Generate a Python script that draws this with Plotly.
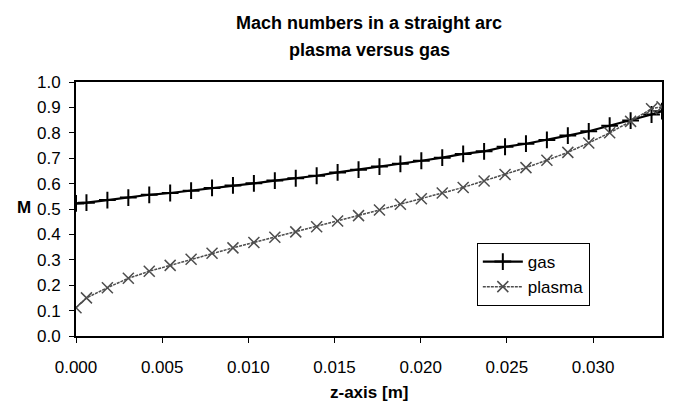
import plotly.graph_objects as go

z_axis = [0.0, 0.000607, 0.001821, 0.003036, 0.004250, 0.005464, 0.006679, 0.007893,
          0.009107, 0.010321, 0.011536, 0.012750, 0.013964, 0.015179, 0.016393,
          0.017607, 0.018821, 0.020036, 0.021250, 0.022464, 0.023679, 0.024893,
          0.026107, 0.027321, 0.028536, 0.029750, 0.030964, 0.032179, 0.033393, 0.034]

gas = [0.522, 0.525, 0.535, 0.545, 0.556, 0.563, 0.572, 0.583, 0.593, 0.601,
       0.612, 0.621, 0.631, 0.644, 0.655, 0.667, 0.678, 0.690, 0.702, 0.717,
       0.727, 0.745, 0.757, 0.772, 0.789, 0.806, 0.828, 0.848, 0.872, 0.885]

plasma = [0.111, 0.150, 0.190, 0.227, 0.255, 0.278, 0.302, 0.326, 0.347, 0.368,
          0.389, 0.410, 0.430, 0.453, 0.474, 0.496, 0.519, 0.540, 0.563, 0.585,
          0.610, 0.636, 0.663, 0.692, 0.723, 0.760, 0.800, 0.845, 0.895, 0.902]

x_ticks = [0.000, 0.005, 0.010, 0.015, 0.020, 0.025, 0.030]
y_ticks = [0.0, 0.1, 0.2, 0.3, 0.4, 0.5, 0.6, 0.7, 0.8, 0.9, 1.0]

FONT = "Liberation Sans, Arial, sans-serif"
W, H = 673, 405
L, R, T, B = 76, 9, 82, 69
PH = H - T - B


def py(pixel_y):
    # figure pixel row -> paper y
    return (H - B - pixel_y) / PH


fig = go.Figure()
fig.add_trace(go.Scatter(
    x=z_axis, y=gas, name="gas", mode="lines+markers",
    line=dict(color="black", width=2.2),
    marker=dict(symbol="cross-thin-open", size=12, line=dict(color="black", width=2)),
))
fig.add_trace(go.Scatter(
    x=z_axis, y=plasma, name="plasma", mode="lines+markers",
    line=dict(color="#4d4d4d", width=1.5, dash="3px,1px"),
    marker=dict(symbol="x-thin-open", size=11, line=dict(color="#2e2e2e", width=1.5)),
))

fig.update_layout(
    width=W, height=H,
    margin=dict(l=L, r=R, t=T, b=B),
    paper_bgcolor="white", plot_bgcolor="white",
    font=dict(family=FONT, size=17, color="black"),
    showlegend=True,
    legend=dict(x=0.684, y=py(243), xanchor="left", yanchor="top",
                bgcolor="white", bordercolor="black", borderwidth=1,
                font=dict(family=FONT, size=17, color="black"),
                tracegroupgap=0, itemwidth=40),
    xaxis=dict(range=[0, 0.034], tickvals=x_ticks, tickformat=".3f",
               showgrid=False, zeroline=False,
               showline=True, linecolor="black", linewidth=2, mirror=True,
               ticks="outside", ticklen=5, tickcolor="black", tickwidth=1,
               ticklabelstandoff=10),
    yaxis=dict(range=[0, 1.0], tickvals=y_ticks, tickformat=".1f",
               showgrid=False, zeroline=False,
               showline=True, linecolor="black", linewidth=2, mirror=True,
               ticks="outside", ticklen=5, tickcolor="black", tickwidth=1,
               ticklabelstandoff=5),
    annotations=[
        dict(text="<b>Mach numbers in a straight arc</b>", xref="paper", yref="paper",
             x=0.5, y=py(23), xanchor="center", yanchor="middle", showarrow=False,
             font=dict(family=FONT, size=18, color="black")),
        dict(text="<b>plasma versus gas</b>", xref="paper", yref="paper",
             x=0.5, y=py(50), xanchor="center", yanchor="middle", showarrow=False,
             font=dict(family=FONT, size=18, color="black")),
        dict(text="<b>M</b>", xref="paper", yref="paper", x=(24 - L) / (W - L - R), y=py(207),
             xanchor="center", yanchor="middle", showarrow=False,
             font=dict(family=FONT, size=17, color="black")),
        dict(text="<b>z-axis [m]</b>", xref="paper", yref="paper", x=0.5, y=py(392),
             xanchor="center", yanchor="middle", showarrow=False,
             font=dict(family=FONT, size=17, color="black")),
    ],
)

fig.write_html("out.html", config={"displayModeBar": False},
               post_script="document.body.style.margin='0';")
